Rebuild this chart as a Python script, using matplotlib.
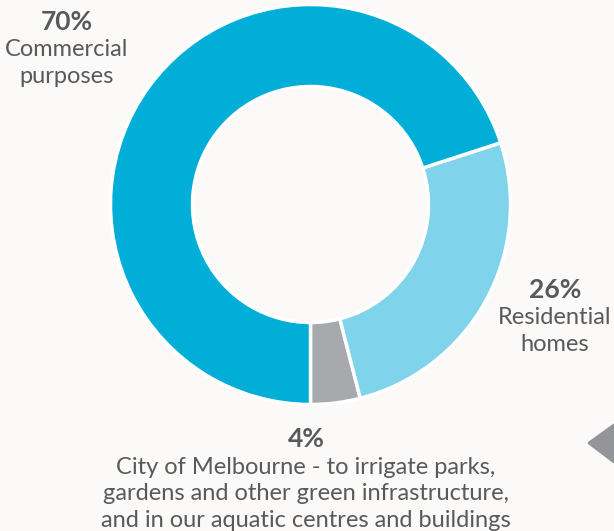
import matplotlib.pyplot as plt
from matplotlib.patches import Polygon

# shares of water use
labels = [["Commercial", "purposes"], ["Residential", "homes"],
          ["City of Melbourne - to irrigate parks,",
           "gardens and other green infrastructure,",
           "and in our aquatic centres and buildings"]]
pcts = [70, 26, 4]
colors = ["#00aed8", "#7fd3ea", "#a7a9ac"]

W, H = 614, 531
bg = "#fbfaf8"
txt = "#58595b"

fig = plt.figure(figsize=(W / 100, H / 100), dpi=100, facecolor=bg)
ax = fig.add_axes([0, 0, 1, 1])

# pie drawn from 6 o'clock: gray, light blue, then dark blue
order = [2, 1, 0]
ax.pie([pcts[i] for i in order], colors=[colors[i] for i in order],
       startangle=-90, counterclock=True, center=(310.5, H - 204.5), radius=200,
       wedgeprops=dict(width=82, edgecolor="white", linewidth=2.5), frame=True)
ax.set_xlim(0, W)
ax.set_ylim(0, H)
ax.set_aspect("equal")
ax.axis("off")

font = "Lato"
def lab(x, y, pct, lines):
    ax.text(x, H - y, f"{pct}%", ha="center", va="center", fontsize=19,
            fontweight="bold", color=txt, family=font)
    for k, line in enumerate(lines):
        ax.text(x, H - (y + 28 + 26.7 * k), line, ha="center", va="center",
                fontsize=17, color=txt, family=font)

lab(67, 22, pcts[0], labels[0])
lab(555, 290, pcts[1], labels[1])
lab(306, 439, pcts[2], labels[2])

# arrow at bottom right
ax.add_patch(Polygon([(589, H - 443), (614, H - 425), (614, H - 462)],
                     closed=True, color="#939598", joinstyle="round", lw=2))

fig.savefig("out.png", dpi=100, facecolor=bg)
